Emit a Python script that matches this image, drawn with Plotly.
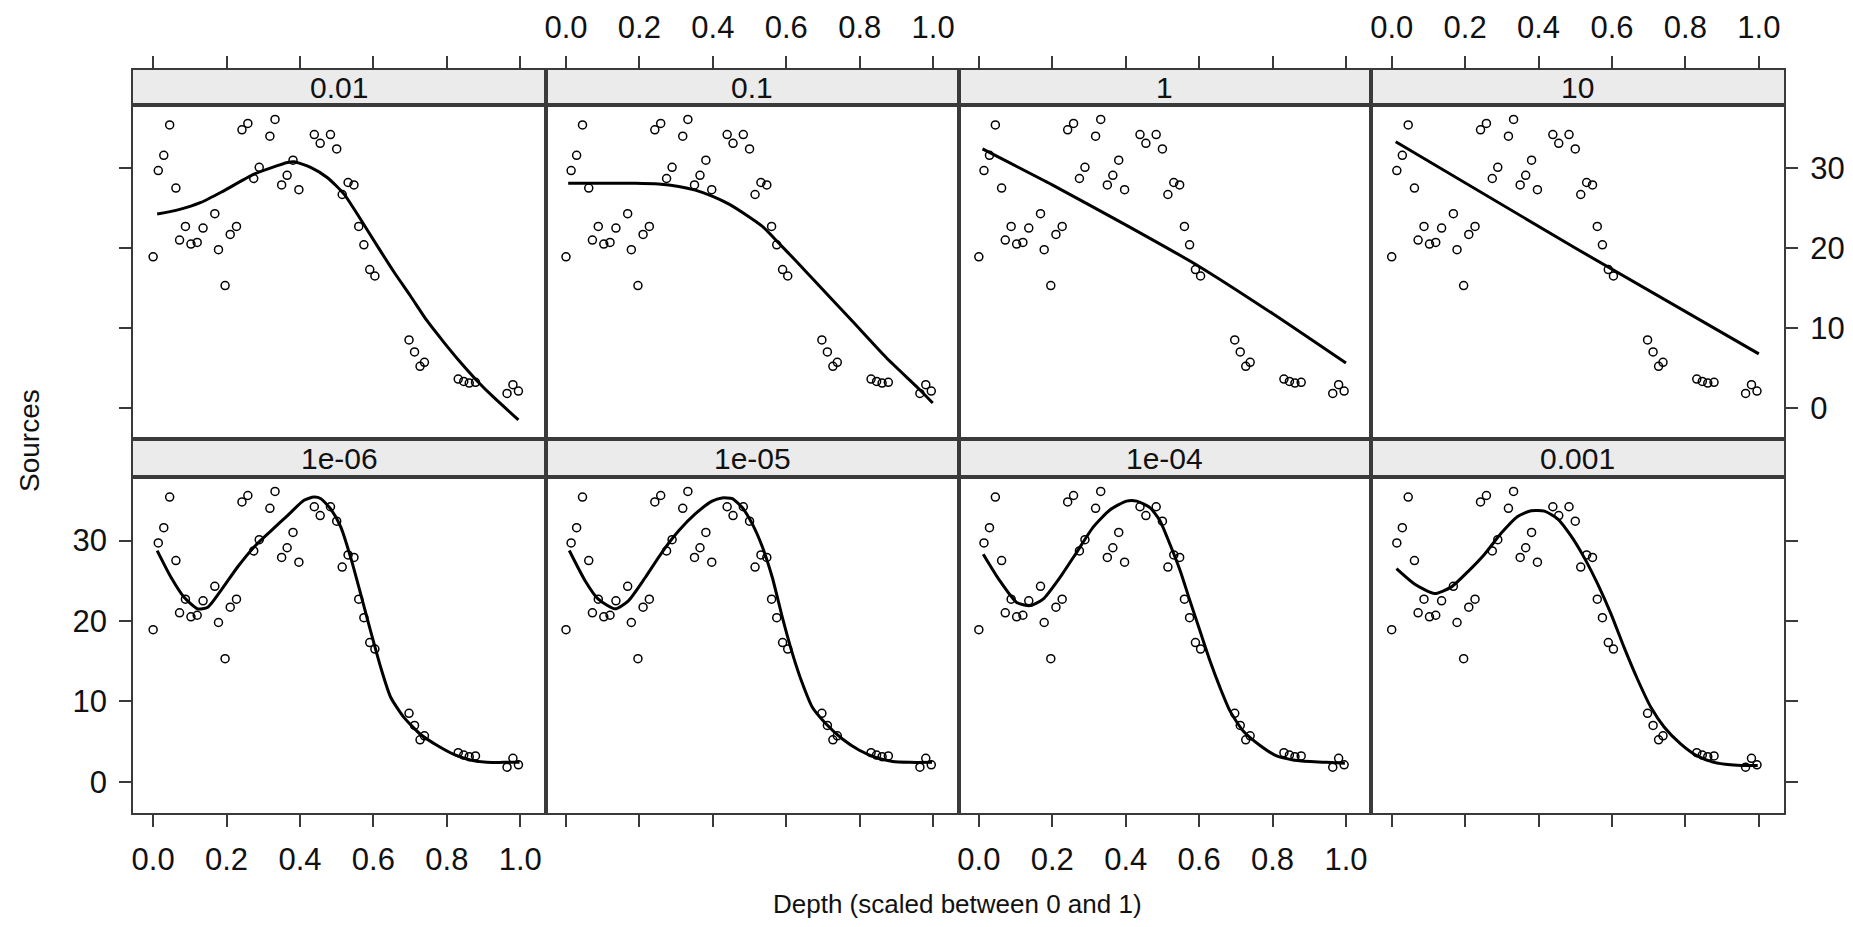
import plotly.graph_objects as go

# observed points (same in every panel)
depth = [0.000, 0.014, 0.029, 0.045, 0.062, 0.072, 0.088, 0.103, 0.120, 0.136, 0.168, 0.178,
         0.196, 0.210, 0.227, 0.242, 0.258, 0.274, 0.289, 0.318, 0.332, 0.350, 0.365, 0.381,
         0.397, 0.439, 0.455, 0.483, 0.500, 0.515, 0.531, 0.547, 0.560, 0.574, 0.590, 0.604,
         0.697, 0.712, 0.727, 0.739, 0.831, 0.846, 0.861, 0.878, 0.964, 0.980, 0.995]
sources = [18.9, 29.7, 31.6, 35.4, 27.5, 21.0, 22.7, 20.5, 20.7, 22.5, 24.3, 19.8,
           15.3, 21.7, 22.7, 34.8, 35.6, 28.7, 30.1, 34.0, 36.1, 27.9, 29.1, 31.0,
           27.3, 34.2, 33.1, 34.2, 32.4, 26.7, 28.2, 27.9, 22.7, 20.4, 17.3, 16.5,
           8.5, 7.0, 5.2, 5.7, 3.6, 3.3, 3.1, 3.2, 1.8, 2.9, 2.1]

# smoothing spline fits, one per smoothing parameter
fit_x_1e06 = [0.011, 0.049, 0.085, 0.121, 0.149, 0.185, 0.230, 0.275, 0.321, 0.366, 0.411, 0.438, 0.457, 0.484,
              0.511, 0.538, 0.565, 0.592, 0.620, 0.647, 0.683, 0.728, 0.774, 0.819, 0.864, 0.909, 0.955, 0.998]
fit_y_1e06 = [28.75, 25.4, 22.9, 21.5, 21.7, 23.8, 26.7, 29.2, 31.2, 33.1, 35.0, 35.4, 35.2, 33.9,
              31.7, 27.9, 23.4, 18.8, 14.2, 10.5, 8.0, 5.9, 4.5, 3.4, 2.7, 2.4, 2.4, 2.4]

fit_x_1e05 = [0.009, 0.052, 0.088, 0.134, 0.170, 0.216, 0.261, 0.307, 0.352, 0.398, 0.425, 0.453, 0.480, 0.507,
              0.535, 0.562, 0.589, 0.617, 0.644, 0.671, 0.708, 0.753, 0.799, 0.844, 0.890, 0.935, 0.997]
fit_y_1e05 = [28.75, 25.0, 22.7, 21.5, 22.5, 25.4, 28.5, 31.2, 33.3, 34.9, 35.3, 35.2, 34.1, 32.1,
              29.2, 25.4, 20.5, 15.9, 12.2, 9.25, 7.2, 5.3, 3.9, 3.0, 2.5, 2.4, 2.4]

fit_x_1e04 = [0.012, 0.057, 0.103, 0.139, 0.175, 0.221, 0.266, 0.312, 0.357, 0.402, 0.430, 0.466, 0.493, 0.520,
              0.548, 0.575, 0.602, 0.629, 0.657, 0.684, 0.720, 0.766, 0.811, 0.856, 0.902, 0.947, 0.997]
fit_y_1e04 = [28.3, 25.0, 22.3, 21.9, 22.7, 25.4, 28.5, 31.7, 33.8, 34.9, 34.9, 34.1, 32.5, 29.6,
              26.3, 22.5, 18.8, 15.1, 11.7, 8.8, 6.3, 4.5, 3.2, 2.7, 2.5, 2.4, 2.3]

fit_x_1e03 = [0.013, 0.062, 0.117, 0.162, 0.207, 0.253, 0.298, 0.343, 0.380, 0.416, 0.452, 0.488, 0.524,
              0.561, 0.597, 0.633, 0.669, 0.706, 0.742, 0.787, 0.832, 0.878, 0.923, 0.968, 0.997]
fit_y_1e03 = [26.5, 24.6, 23.4, 24.2, 26.1, 28.3, 30.9, 33.0, 33.7, 33.65, 32.7, 30.6, 27.9,
              24.6, 20.9, 16.7, 12.8, 9.25, 6.8, 4.7, 3.2, 2.4, 2.1, 2.0, 2.0]

fit_x_1e02 = [0.011, 0.070, 0.130, 0.190, 0.275, 0.366, 0.384, 0.429, 0.475, 0.520, 0.565, 0.610,
              0.656, 0.701, 0.746, 0.792, 0.837, 0.882, 0.928, 0.995]
fit_y_1e02 = [24.25, 24.8, 25.7, 27.1, 29.25, 30.7, 30.8, 30.1, 28.8, 26.75, 23.6, 20.3,
              17.0, 14.0, 10.9, 8.2, 5.7, 3.4, 1.3, -1.5]

fit_x_1e01 = [0.006, 0.097, 0.189, 0.252, 0.307, 0.352, 0.398, 0.444, 0.489, 0.535, 0.580, 0.626,
              0.689, 0.781, 0.872, 0.963, 0.999]
fit_y_1e01 = [28.1, 28.1, 28.1, 28.0, 27.7, 27.25, 26.5, 25.5, 24.2, 22.7, 20.6, 18.4,
              15.3, 10.8, 6.3, 2.3, 0.6]

fit_x_1 = [0.010, 0.200, 0.400, 0.600, 0.800, 1.000]
fit_y_1 = [32.4, 27.9, 22.9, 17.7, 11.8, 5.6]

fit_x_10 = [0.011, 0.5, 1.0]
fit_y_10 = [33.3, 20.0, 6.75]

# panel order: bottom row left->right, then top row left->right
panel_labels = ["1e-06", "1e-05", "1e-04", "0.001", "0.01", "0.1", "1", "10"]
fits = [(fit_x_1e06, fit_y_1e06), (fit_x_1e05, fit_y_1e05), (fit_x_1e04, fit_y_1e04),
        (fit_x_1e03, fit_y_1e03), (fit_x_1e02, fit_y_1e02), (fit_x_1e01, fit_y_1e01),
        (fit_x_1, fit_y_1), (fit_x_10, fit_y_10)]

x_ticks = [0, 0.2, 0.4, 0.6, 0.8, 1.0]
x_ticktext = ["0.0", "0.2", "0.4", "0.6", "0.8", "1.0"]
y_ticks = [0, 10, 20, 30]

# page has an 8px body margin, so the figure is that much smaller
W, H, OFF = 1837, 911, 8


def fx(p):
    return (p - OFF) / W


def fy(p):
    return 1 - (p - OFF) / H


col_edges = [132, 545.3, 958.6, 1371.9, 1785.2]
rows = {"top": {"strip": (70, 105), "panel": (105, 439)},
        "bottom": {"strip": (439, 477), "panel": (477, 813)}}

x_range = [-0.0552, 1.0693]
y_range = [-3.9, 37.9]
line_col = "#3a3a3a"
font_family = "Liberation Sans, Arial, Helvetica, sans-serif"
tick_font = dict(size=31, color="#111")

fig = go.Figure()
layout = {}
annotations = []
shapes = []

for i, lab in enumerate(panel_labels):
    row = "bottom" if i < 4 else "top"
    col = i % 4
    k = i + 1      # panel axes
    s = i + 9      # strip axes
    xd = [fx(col_edges[col]), fx(col_edges[col + 1])]
    py0, py1 = rows[row]["panel"]
    sy0, sy1 = rows[row]["strip"]

    fig.add_trace(go.Scatter(
        x=depth, y=sources, mode="markers", xaxis=f"x{k}", yaxis=f"y{k}",
        marker=dict(symbol="circle-open", size=8, color="black", line=dict(width=1.5)),
        showlegend=False, hoverinfo="skip"))
    fig.add_trace(go.Scatter(
        x=fits[i][0], y=fits[i][1], mode="lines", xaxis=f"x{k}", yaxis=f"y{k}",
        line=dict(color="black", width=3, shape="spline", smoothing=0.6),
        showlegend=False, hoverinfo="skip"))
    # empty trace so the strip subplot exists
    fig.add_trace(go.Scatter(x=[None], y=[None], xaxis=f"x{s}", yaxis=f"y{s}",
                             showlegend=False, hoverinfo="skip"))

    base_x = dict(domain=xd, range=x_range, showgrid=False, zeroline=False,
                  showline=True, mirror=True, linecolor=line_col, linewidth=1.5,
                  tickvals=x_ticks, ticktext=x_ticktext, ticklen=12, tickwidth=1.5,
                  tickcolor=line_col, ticklabelstandoff=6, tickfont=tick_font,
                  fixedrange=True)
    base_y = dict(showgrid=False, zeroline=False, showline=True, mirror=True,
                  linecolor=line_col, linewidth=1.5, ticklen=12, tickwidth=1.5,
                  tickcolor=line_col, ticklabelstandoff=6, tickfont=tick_font,
                  fixedrange=True)

    # panel x axis
    px_ax = dict(base_x, anchor=f"y{k}")
    if row == "bottom":
        px_ax.update(ticks="outside", side="bottom", showticklabels=col in (0, 2))
    else:
        px_ax.update(ticks="", showticklabels=False)
    layout[f"xaxis{k}"] = px_ax

    # panel y axis
    py_ax = dict(base_y, anchor=f"x{k}", domain=[fy(py1), fy(py0)], range=y_range,
                 tickvals=y_ticks)
    if col == 0:
        py_ax.update(side="left", ticks="outside", showticklabels=(row == "bottom"))
    elif col == 3:
        py_ax.update(side="right", ticks="outside", showticklabels=(row == "top"))
    else:
        py_ax.update(ticks="", showticklabels=False)
    layout[f"yaxis{k}"] = py_ax

    # strip axes
    sx_ax = dict(base_x, anchor=f"y{s}")
    if row == "top":
        sx_ax.update(side="top", ticks="outside", showticklabels=col in (1, 3))
    else:
        sx_ax.update(ticks="", showticklabels=False)
    layout[f"xaxis{s}"] = sx_ax
    layout[f"yaxis{s}"] = dict(base_y, anchor=f"x{s}", domain=[fy(sy1), fy(sy0)],
                               range=[0, 1], ticks="", showticklabels=False)

    shapes.append(dict(type="rect", xref=f"x{s} domain", yref=f"y{s} domain",
                       x0=0, x1=1, y0=0, y1=1, fillcolor="#ebebeb",
                       line=dict(width=0), layer="below"))
    annotations.append(dict(text=lab, xref=f"x{s} domain", yref=f"y{s} domain",
                            x=0.5, y=0.5, xanchor="center", yanchor="middle",
                            showarrow=False, font=dict(size=30, color="#111")))

annotations.append(dict(text="Sources", xref="paper", yref="paper", x=fx(28), y=fy(440),
                        xanchor="center", yanchor="middle", textangle=-90,
                        showarrow=False, font=dict(size=28, color="#111")))
annotations.append(dict(text="Depth (scaled between 0 and 1)", xref="paper", yref="paper",
                        x=fx(958), y=fy(904), xanchor="center", yanchor="middle",
                        showarrow=False, font=dict(size=26, color="#111")))

fig.update_layout(**layout)
fig.update_layout(
    width=W, height=H, margin=dict(l=0, r=0, t=0, b=0),
    paper_bgcolor="white", plot_bgcolor="white",
    font=dict(family=font_family, size=27, color="#111"),
    annotations=annotations, shapes=shapes, showlegend=False)

fig.write_html("out.html")
